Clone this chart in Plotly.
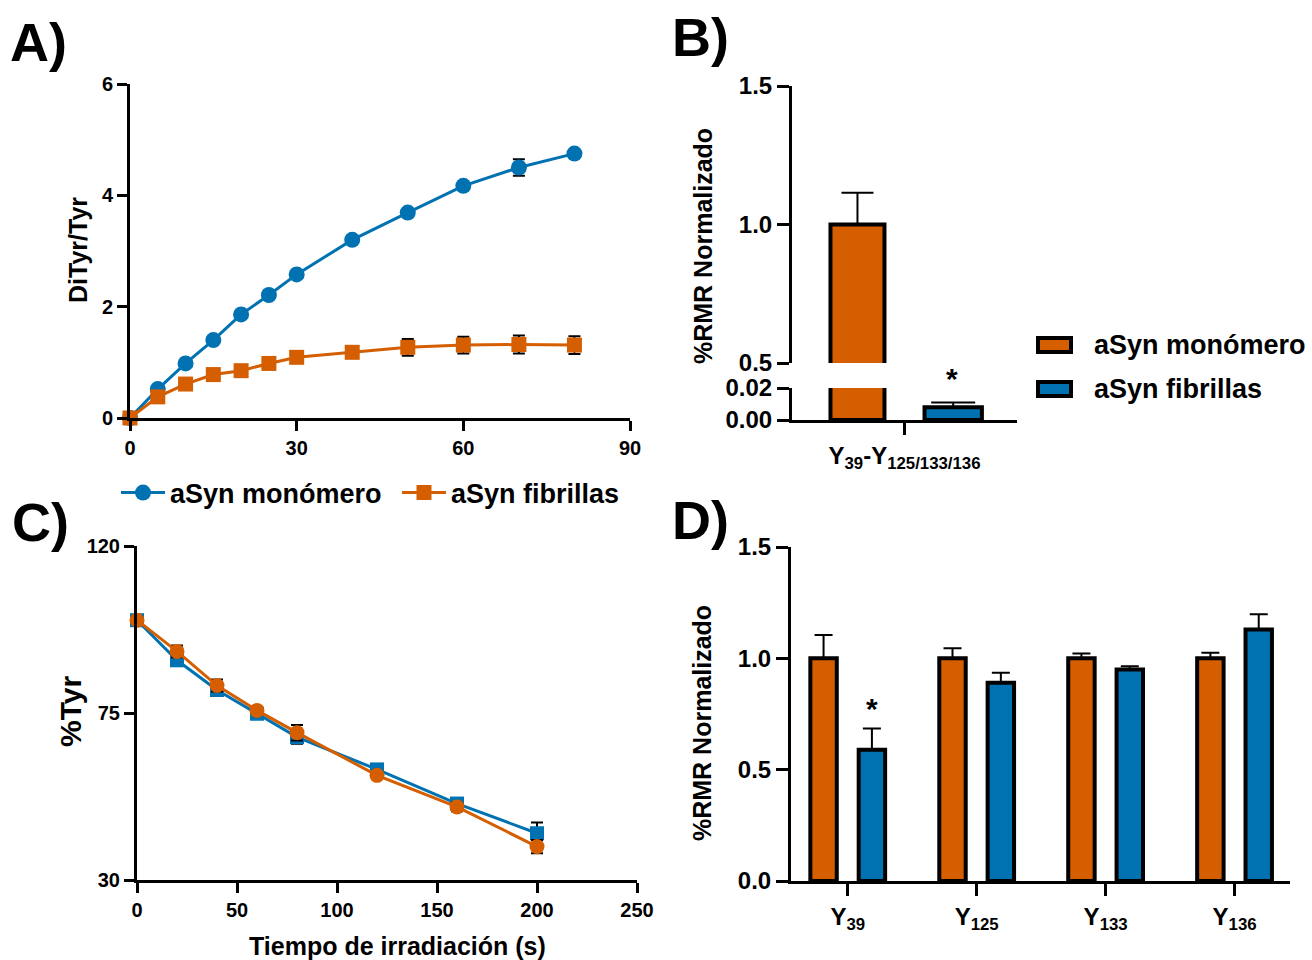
import plotly.graph_objects as go

ORANGE = "#D55E00"
BLUE = "#0072B2"
FONT = "Arial"

# ---------------- Panel A data ----------------
a_time = [0, 5, 10, 15, 20, 25, 30, 40, 50, 60, 70, 80]
a_mono = [0.0, 0.52, 0.98, 1.40, 1.86, 2.21, 2.58, 3.20, 3.69, 4.17, 4.50, 4.75]
a_mono_err = [0.0, 0.02, 0.03, 0.03, 0.03, 0.03, 0.04, 0.04, 0.04, 0.04, 0.15, 0.05]
a_fib = [0.0, 0.38, 0.61, 0.78, 0.85, 0.98, 1.09, 1.18, 1.27, 1.31, 1.32, 1.31]
a_fib_err = [0.0, 0.02, 0.03, 0.04, 0.04, 0.04, 0.05, 0.05, 0.15, 0.15, 0.16, 0.16]

# ---------------- Panel B data ----------------
b_labels = ["Y<sub>39</sub>-Y<sub>125/133/136</sub>"]
b_mono = [1.0]
b_mono_err = [0.115]
b_fib = [0.008]
b_fib_err = [0.003]

# ---------------- Panel C data ----------------
c_time = [0, 20, 40, 60, 80, 120, 160, 200]
c_squares = [100.0, 89.2, 81.2, 74.8, 68.5, 59.8, 50.6, 42.6]
c_squares_err = [0.5, 1.5, 1.5, 1.0, 1.8, 1.0, 1.5, 2.9]
c_circles = [100.0, 91.6, 82.4, 75.7, 69.7, 58.2, 49.7, 39.0]
c_circles_err = [0.5, 1.6, 1.6, 0.8, 2.1, 0.8, 1.2, 1.8]

# ---------------- Panel D data ----------------
d_labels = ["Y<sub>39</sub>", "Y<sub>125</sub>", "Y<sub>133</sub>", "Y<sub>136</sub>"]
d_mono = [1.0, 1.0, 1.0, 1.0]
d_mono_err = [0.105, 0.045, 0.022, 0.025]
d_fib = [0.59, 0.89, 0.95, 1.13]
d_fib_err = [0.095, 0.045, 0.015, 0.068]

names = ["aSyn monómero", "aSyn fibrillas"]
colors = [ORANGE, BLUE]

fig = go.Figure()


def err(arr, w, up_only=False):
    d = dict(type="data", array=arr, color="black", thickness=2, width=w, visible=True)
    if up_only:
        d["symmetric"] = False
        d["arrayminus"] = [0] * len(arr)
    return d


# Panel A
fig.add_trace(go.Scatter(x=a_time, y=a_mono, name=names[0], mode="lines+markers",
                         line=dict(color=BLUE, width=3), marker=dict(symbol="circle", size=16, color=BLUE),
                         error_y=err(a_mono_err, 6), xaxis="x", yaxis="y", cliponaxis=False))
fig.add_trace(go.Scatter(x=a_time, y=a_fib, name=names[1], mode="lines+markers",
                         line=dict(color=ORANGE, width=3), marker=dict(symbol="square", size=15, color=ORANGE),
                         error_y=err(a_fib_err, 6), xaxis="x", yaxis="y", cliponaxis=False))

# Panel C
fig.add_trace(go.Scatter(x=c_time, y=c_squares, mode="lines+markers", showlegend=False,
                         line=dict(color=BLUE, width=3), marker=dict(symbol="square", size=14, color=BLUE),
                         error_y=err(c_squares_err, 6), xaxis="x4", yaxis="y4", cliponaxis=False))
fig.add_trace(go.Scatter(x=c_time, y=c_circles, mode="lines+markers", showlegend=False,
                         line=dict(color=ORANGE, width=3), marker=dict(symbol="circle", size=15, color=ORANGE),
                         error_y=err(c_circles_err, 6), xaxis="x4", yaxis="y4", cliponaxis=False))

# Panel B (broken axis: upper x2/y2, lower x3/y3)
b_x = list(range(len(b_labels)))
for ax, ay in (("x2", "y2"), ("x3", "y3")):
    fig.add_trace(go.Bar(x=b_x, y=b_mono, name=names[0], width=0.24, offset=-0.329,
                         marker=dict(color=ORANGE, line=dict(color="black", width=4)),
                         error_y=err(b_mono_err, 16, True), xaxis=ax, yaxis=ay, showlegend=False))
    fig.add_trace(go.Bar(x=b_x, y=b_fib, name=names[1], width=0.255, offset=0.089,
                         marker=dict(color=BLUE, line=dict(color="black", width=4)),
                         error_y=err(b_fib_err, 22, True), xaxis=ax, yaxis=ay, showlegend=False))

# Panel D
d_x = list(range(len(d_labels)))
fig.add_trace(go.Bar(x=d_x, y=d_mono, name=names[0], width=0.205, offset=-0.29, showlegend=False,
                     marker=dict(color=ORANGE, line=dict(color="black", width=4)),
                     error_y=err(d_mono_err, 9, True), xaxis="x5", yaxis="y5"))
fig.add_trace(go.Bar(x=d_x, y=d_fib, name=names[1], width=0.205, offset=0.085, showlegend=False,
                     marker=dict(color=BLUE, line=dict(color="black", width=4)),
                     error_y=err(d_fib_err, 9, True), xaxis="x5", yaxis="y5"))


def axis(domain, anchor, rng, size=20, **kw):
    d = dict(domain=domain, anchor=anchor, range=rng, showline=True, linewidth=3, linecolor="black",
             ticks="outside", tickwidth=3, ticklen=10, tickcolor="black", showgrid=False, zeroline=False,
             automargin=False, fixedrange=True,
             tickfont=dict(family=FONT, size=size, color="black", weight="bold"))
    d.update(kw)
    return d


W, H = 1312, 960
px = lambda v: v / W
py = lambda v: 1 - v / H

layout = dict(
    template="none",
    width=W, height=H, margin=dict(l=0, r=0, t=0, b=0, pad=0, autoexpand=False),
    paper_bgcolor="white", plot_bgcolor="white",
    barmode="group",
    font=dict(family=FONT, color="black"),
    xaxis=axis([px(130), px(630)], "y", [0, 90], tickvals=[0, 30, 60, 90]),
    yaxis=axis([py(418), py(84)], "x", [0, 6], tickvals=[0, 2, 4, 6]),
    xaxis2=axis([px(792), px(1017)], "y2", [-0.5, 0.5], visible=False),
    yaxis2=axis([py(363), py(86)], "x2", [0.5, 1.5], size=24, tickvals=[0.5, 1.0, 1.5],
                tickformat=".1f", ticklen=12),
    xaxis3=axis([px(792), px(1017)], "y3", [-0.5, 0.5], size=24, tickvals=b_x, ticktext=b_labels,
                ticklen=12),
    yaxis3=axis([py(420), py(388)], "x3", [0, 0.02], size=24, tickvals=[0.0, 0.02],
                tickformat=".2f", ticklen=12),
    xaxis4=axis([px(137), px(637)], "y4", [0, 250], tickvals=[0, 50, 100, 150, 200, 250]),
    yaxis4=axis([py(880), py(546)], "x4", [30, 120], tickvals=[30, 75, 120]),
    xaxis5=axis([px(791), px(1290)], "y5", [-0.44, 3.43], size=24, tickvals=d_x, ticktext=d_labels,
                ticklen=12),
    yaxis5=axis([py(881), py(547)], "x5", [0, 1.5], size=24, tickvals=[0, 0.5, 1.0, 1.5],
                tickformat=".1f", ticklen=12),
    legend=dict(orientation="h", x=px(116), y=py(493), xanchor="left", yanchor="middle",
                font=dict(family=FONT, size=27, color="black", weight="bold"),
                itemwidth=44, entrywidth=222, bgcolor="rgba(0,0,0,0)"),
    showlegend=True,
)
fig.update_layout(**layout)

ann = []


def txt(t, x, y, size, angle=0, xanchor="center"):
    ann.append(dict(text=t, x=x, y=y, xref="paper", yref="paper", showarrow=False, textangle=angle,
                    xanchor=xanchor, yanchor="middle",
                    font=dict(family=FONT, size=size, color="black", weight="bold")))


txt("A)", px(8), py(42), 54, xanchor="left")
txt("B)", px(670), py(37), 54, xanchor="left")
txt("C)", px(10), py(522), 54, xanchor="left")
txt("D)", px(670), py(520), 54, xanchor="left")
txt("DiTyr/Tyr", px(78), py(250), 25, -90)
txt("%RMR Normalizado", px(703), py(246), 25, -90)
txt("%Tyr", px(70), py(712), 30, -90)
txt("Tiempo de irradiación (s)", px(397), py(946), 25)
txt("%RMR Normalizado", px(702), py(723), 25, -90)
txt("*", px(952), py(378), 30)

# Legend for the bar panels (swatches + labels)
shapes = []
for i, (nm, col) in enumerate(zip(names, colors)):
    yc = 345 + 44 * i
    shapes.append(dict(type="rect", xref="paper", yref="paper", x0=px(1038), x1=px(1071),
                       y0=py(yc + 7), y1=py(yc - 7), fillcolor=col, line=dict(color="black", width=4)))
    txt(nm, px(1092), py(yc), 27, xanchor="left")

fig.update_layout(annotations=ann, shapes=shapes)
fig.add_annotation(text="*", x=d_x[0] + 0.187, y=d_fib[0] + d_fib_err[0] + 0.09, xref="x5", yref="y5",
                   showarrow=False, font=dict(family=FONT, size=30, color="black", weight="bold"))

fig.write_html("out.html", config={"displayModeBar": False},
               post_script="document.body.style.margin='0';document.body.style.padding='0';"
                           "document.body.style.overflow='hidden';")
